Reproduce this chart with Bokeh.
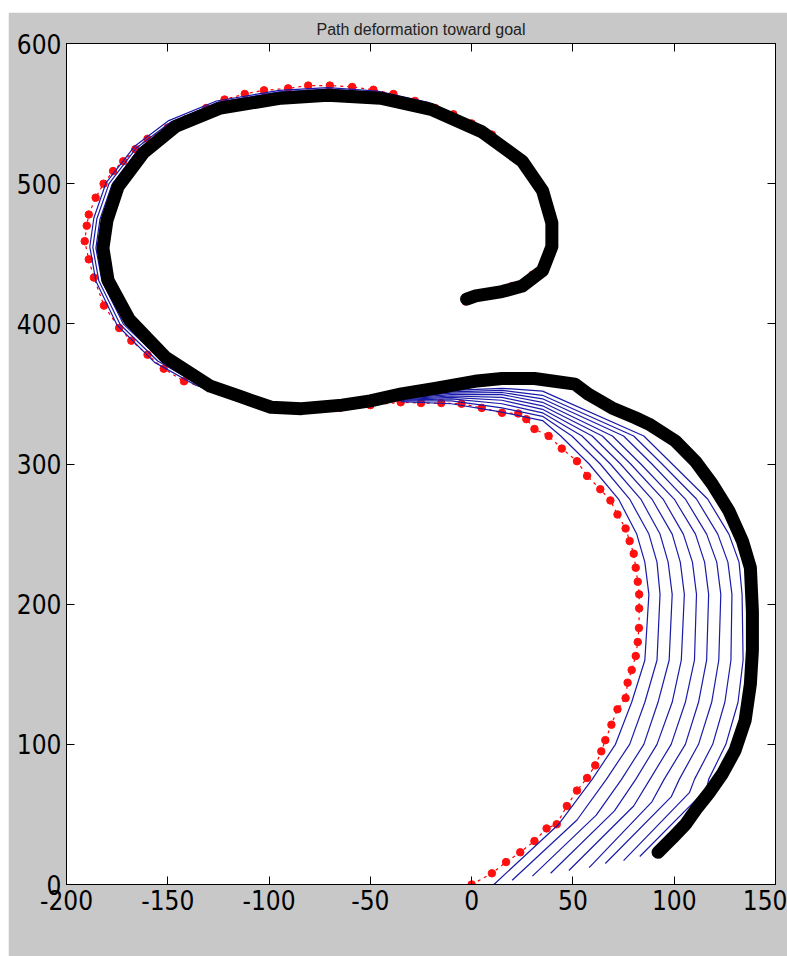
from bokeh.plotting import figure
from bokeh.models import Range1d, LinearAxis, FixedTicker, Spacer
from bokeh.layouts import column, row
from bokeh.embed import file_html
from bokeh.resources import INLINE

# ---------------- data ----------------
x_ticks = [-200, -150, -100, -50, 0, 50, 100, 150]
x_tick_labels = ["-200", "-150", "-100", "-50", "0", "50", "100", "150"]
y_ticks = [0, 100, 200, 300, 400, 500, 600]
y_tick_labels = ["0", "100", "200", "300", "400", "500", "600"]
title_text = "Path deformation toward goal"

# red dotted reference path (initial)
red_x = [0, 10, 17, 24, 31, 37, 42, 47, 52, 57, 61, 64, 66, 69, 72, 76, 77, 79, 81, 82,
         82.6, 82.7, 82.7, 82, 81, 80, 78, 76, 72, 68.5, 63.5, 57, 52, 44.5, 38, 31, 27, 23,
         15, 5, -5, -15, -25, -35, -50, -65, -80, -95, -110, -125, -142, -152, -160, -168,
         -174, -181.5, -186.5, -189, -191, -190, -189, -185.6, -181.7, -177, -172, -166,
         -160, -150, -141, -131, -122, -112, -102.5, -90.6, -80.7, -70, -59, -48.5, -38.6,
         -28, -18, -9, 0, 10, 20, 28, 35, 39.5, 40, 37, 30, 20, 8, -3]
red_y = [0, 8, 16, 23, 31, 40, 43, 56, 67, 76, 85, 95, 103, 114, 125, 133, 144, 153, 163, 173,
         183, 197, 207, 216, 226, 236, 245, 254, 264, 274, 282, 291.5, 302, 311, 320, 325, 332, 336,
         336.5, 340, 343, 343.5, 343.5, 344, 342, 340, 339, 341, 346, 352, 359, 368, 378, 388,
         397, 413, 433, 446, 459, 470, 478, 490, 500, 509, 516, 524.6,
         532, 540, 546, 554, 560, 564, 566.6, 568, 570, 570, 569, 567, 564,
         559, 554, 549.5, 543, 535, 522, 510, 495, 478, 462, 446, 435, 427, 421, 416]

# black thick final path
black_x = [92, 99, 105.6, 111, 117, 123.8, 130, 135, 137.6, 138.6, 138.6, 137.6, 133.7, 127,
           118.8, 110.4, 100.5, 87.5, 80.8, 69.3, 57.8, 51, 31, 15, 1.5, -18, -34.6, -50, -64,
           -84, -99, -114, -129, -151, -169, -179.5, -182, -180, -174.5, -162, -146, -124, -94,
           -71, -45, -20, 5, 25, 35, 39.6, 39.6, 35, 25, 15, 2, -2.5]
black_y = [23, 33, 43, 54, 65, 79, 95.5, 117, 143, 167, 195, 226, 245, 266.6,
           285.6, 302, 316.5, 328.5, 333, 340, 349.6, 357, 361, 361, 359, 354, 350, 345, 342,
           339.5, 340.5, 348, 355.5, 376, 403, 431, 454, 474, 498, 522, 541, 554, 561,
           563, 561, 553, 537, 516, 495, 472, 455, 438, 427, 423, 420, 417.7]

# blue intermediate paths (9 lines), read as cross-sections
blue_start_x = [11, 20, 30, 39, 48, 58, 66, 75, 83]
blue_start_y = [0, 3, 6, 8, 10, 12, 15, 17, 20]
blue_kink_x = [43, 52, 61.5, 70.5, 80, 89, 98.5, 107.5, 116]
blue_kink_y = [43, 46, 49.5, 52.5, 56, 59, 62.5, 65.5, 68]
# x positions of each blue line at fixed heights
blue_y_levels = [75, 100, 130, 160, 207, 230, 250, 275, 300, 320]
blue_x_at_y75 = [59.5, 66.5, 74, 81, 88, 95, 102.5, 110, 117]
blue_x_at_y100 = [71, 78, 85, 91.5, 98.5, 105.5, 112, 119, 125.5]
blue_x_at_y130 = [79, 85.5, 92, 99, 105.5, 112, 118.5, 125, 131.5]
blue_x_at_y160 = [85.5, 91.5, 97.5, 103.5, 110, 116, 122, 128, 134]
blue_x_at_y207 = [87.5, 93, 99, 105, 111, 117, 123, 128.5, 133.5]
blue_x_at_y230 = [85.5, 91.5, 97, 103, 109, 115, 121, 126.5, 132]
blue_x_at_y250 = [81.5, 87.5, 93, 99, 104.5, 110.5, 116, 121.5, 127]
blue_x_at_y275 = [72.5, 78, 83.5, 89, 94.5, 100, 105.5, 111, 116.5]
blue_x_at_y300 = [58, 63.5, 68.5, 73.5, 78.5, 83.5, 89, 94, 99]
blue_x_at_y320 = [44, 49.5, 54.5, 59.5, 64.5, 69.5, 75, 80, 85]
# y positions of each blue line at fixed x (top of the arc)
blue_x_levels = [35, 15, -10, -35]
blue_y_at_x35 = [331, 334, 336.5, 339, 341.5, 344, 346.5, 349, 352]
blue_y_at_x15 = [337, 340, 343, 345.5, 347.5, 349.5, 351, 352.5, 354]
blue_y_at_xm10 = [343, 345, 346.5, 347.5, 348.5, 349.5, 350.5, 351.5, 352.5]
blue_y_at_xm35 = [344.5, 345, 345.5, 346, 346.5, 347, 347.5, 348, 348.5]

# blue band inside the upper loop (inner, middle, outer)
loop_in_x = [-35, -50, -84, -112, -133, -153.5, -172, -182.5, -185.5, -183.5, -177.5, -164.5,
             -147.5, -125, -95, -71, -45.5, -20.5, 4, 24, 34.5, 39.6, 39.6, 35, 25, 15, 2, -2.5]
loop_in_y = [347.5, 344, 339.5, 347, 357, 374.5, 400, 430.5, 454, 474.5, 499.5, 524.5,
             543, 557, 564.5, 566.5, 564, 556, 539.5, 518, 496, 472, 455, 438, 427, 423, 420, 417.7]
loop_mid_x = [-35, -50, -84, -112, -134.5, -155, -173.5, -184, -187, -185, -179, -165.5,
              -148.5, -125.5, -95, -71, -46, -21, 3.5, 24.5, 35.5, 39.6, 39.6, 35, 25, 15, 2, -2.5]
loop_mid_y = [346.5, 343.5, 339, 346.5, 356.5, 373.5, 399.5, 430.5, 454.5, 475, 500, 525.5,
              544, 558, 565.5, 567.5, 565, 557, 540.5, 519, 496.5, 472, 455, 438, 427, 423, 420, 417.7]
loop_out_x = [-35, -50, -84, -112, -136, -156.5, -175, -185.5, -188.5, -186.5, -180.5, -166.5,
              -149.5, -126, -95, -71, -46.5, -21.5, 3, 25, 36.5, 39.6, 39.6, 35, 25, 15, 2, -2.5]
loop_out_y = [345.5, 343, 338.5, 346, 356, 372.5, 399, 430.5, 455, 475.5, 500.5, 526.5,
              545, 559, 566.5, 568.5, 566, 558, 541.5, 520, 497, 473, 455, 438, 427, 423, 420, 417.7]

# ---------------- assemble blue lines from the cross-sections ----------------
y_level_cols = [blue_x_at_y75, blue_x_at_y100, blue_x_at_y130, blue_x_at_y160, blue_x_at_y207,
                blue_x_at_y230, blue_x_at_y250, blue_x_at_y275, blue_x_at_y300, blue_x_at_y320]
x_level_cols = [blue_y_at_x35, blue_y_at_x15, blue_y_at_xm10, blue_y_at_xm35]

blue_xs, blue_ys = [], []
for i in range(len(blue_start_x)):
    xs = [blue_start_x[i], blue_kink_x[i]]
    ys = [blue_start_y[i], blue_kink_y[i]]
    for lvl, col in zip(blue_y_levels, y_level_cols):
        xs.append(col[i]); ys.append(lvl)
    for lvl, col in zip(blue_x_levels, x_level_cols):
        xs.append(lvl); ys.append(col[i])
    blue_xs.append(xs); blue_ys.append(ys)
blue_xs += [loop_in_x, loop_mid_x, loop_out_x]
blue_ys += [loop_in_y, loop_mid_y, loop_out_y]

# ---------------- figure ----------------
GRAY = "#c8c8c8"
FIG_W, FIG_H = 779, 944
p = figure(width=FIG_W, height=FIG_H, x_range=Range1d(-200, 150), y_range=Range1d(0, 600),
           output_backend="svg", toolbar_location=None, title=title_text,
           min_border_left=58, min_border_right=12, min_border_top=31, min_border_bottom=72)
p.border_fill_color = GRAY
p.background_fill_color = "white"
p.outline_line_color = "black"
p.outline_line_width = 1
p.grid.visible = False

p.title.align = "center"
p.title.text_font = "Liberation Sans"
p.title.text_font_size = "16px"
p.title.text_font_style = "normal"
p.title.text_color = "#222222"
p.title.standoff = 11

FONT = "DejaVu Sans Condensed"
for ax in (p.xaxis[0], p.yaxis[0]):
    ax.major_tick_in = 8
    ax.major_tick_out = 0
    ax.minor_tick_in = 0
    ax.minor_tick_out = 0
    ax.axis_line_color = "black"
    ax.major_tick_line_color = "black"
    ax.major_label_text_font = FONT
    ax.major_label_text_font_size = "26px"
    ax.major_label_text_color = "black"
    ax.major_label_standoff = 5
p.xaxis[0].ticker = FixedTicker(ticks=x_ticks)
p.xaxis[0].major_label_overrides = dict(zip(x_ticks, x_tick_labels))
p.yaxis[0].ticker = FixedTicker(ticks=y_ticks)
p.yaxis[0].major_label_overrides = dict(zip(y_ticks, y_tick_labels))

top_ax = LinearAxis(ticker=FixedTicker(ticks=x_ticks), major_tick_in=8, major_tick_out=0,
                    minor_tick_in=0, minor_tick_out=0, major_label_standoff=0,
                    major_label_overrides={t: "" for t in x_ticks})
right_ax = LinearAxis(ticker=FixedTicker(ticks=y_ticks), major_tick_in=8, major_tick_out=0,
                      minor_tick_in=0, minor_tick_out=0, major_label_standoff=0,
                      major_label_overrides={t: "" for t in y_ticks})
p.add_layout(top_ax, "above")
p.add_layout(right_ax, "right")

# red initial path
p.line(red_x, red_y, line_color="#ff0000", line_width=1.2, line_dash="3 4")
p.scatter(red_x, red_y, size=7.5, marker="circle", fill_color="#ff1010", line_color="#ff1010")

# blue intermediate paths
p.multi_line(blue_xs, blue_ys, line_color="#1a1aa8", line_width=1.2)

# black final path
p.line(black_x, black_y, line_color="black", line_width=13, line_cap="round", line_join="round")

layout = column(Spacer(height=12, width=FIG_W + 8),
                row(Spacer(width=8, height=FIG_H), p))
open("out.html", "w").write(file_html(layout, INLINE))
